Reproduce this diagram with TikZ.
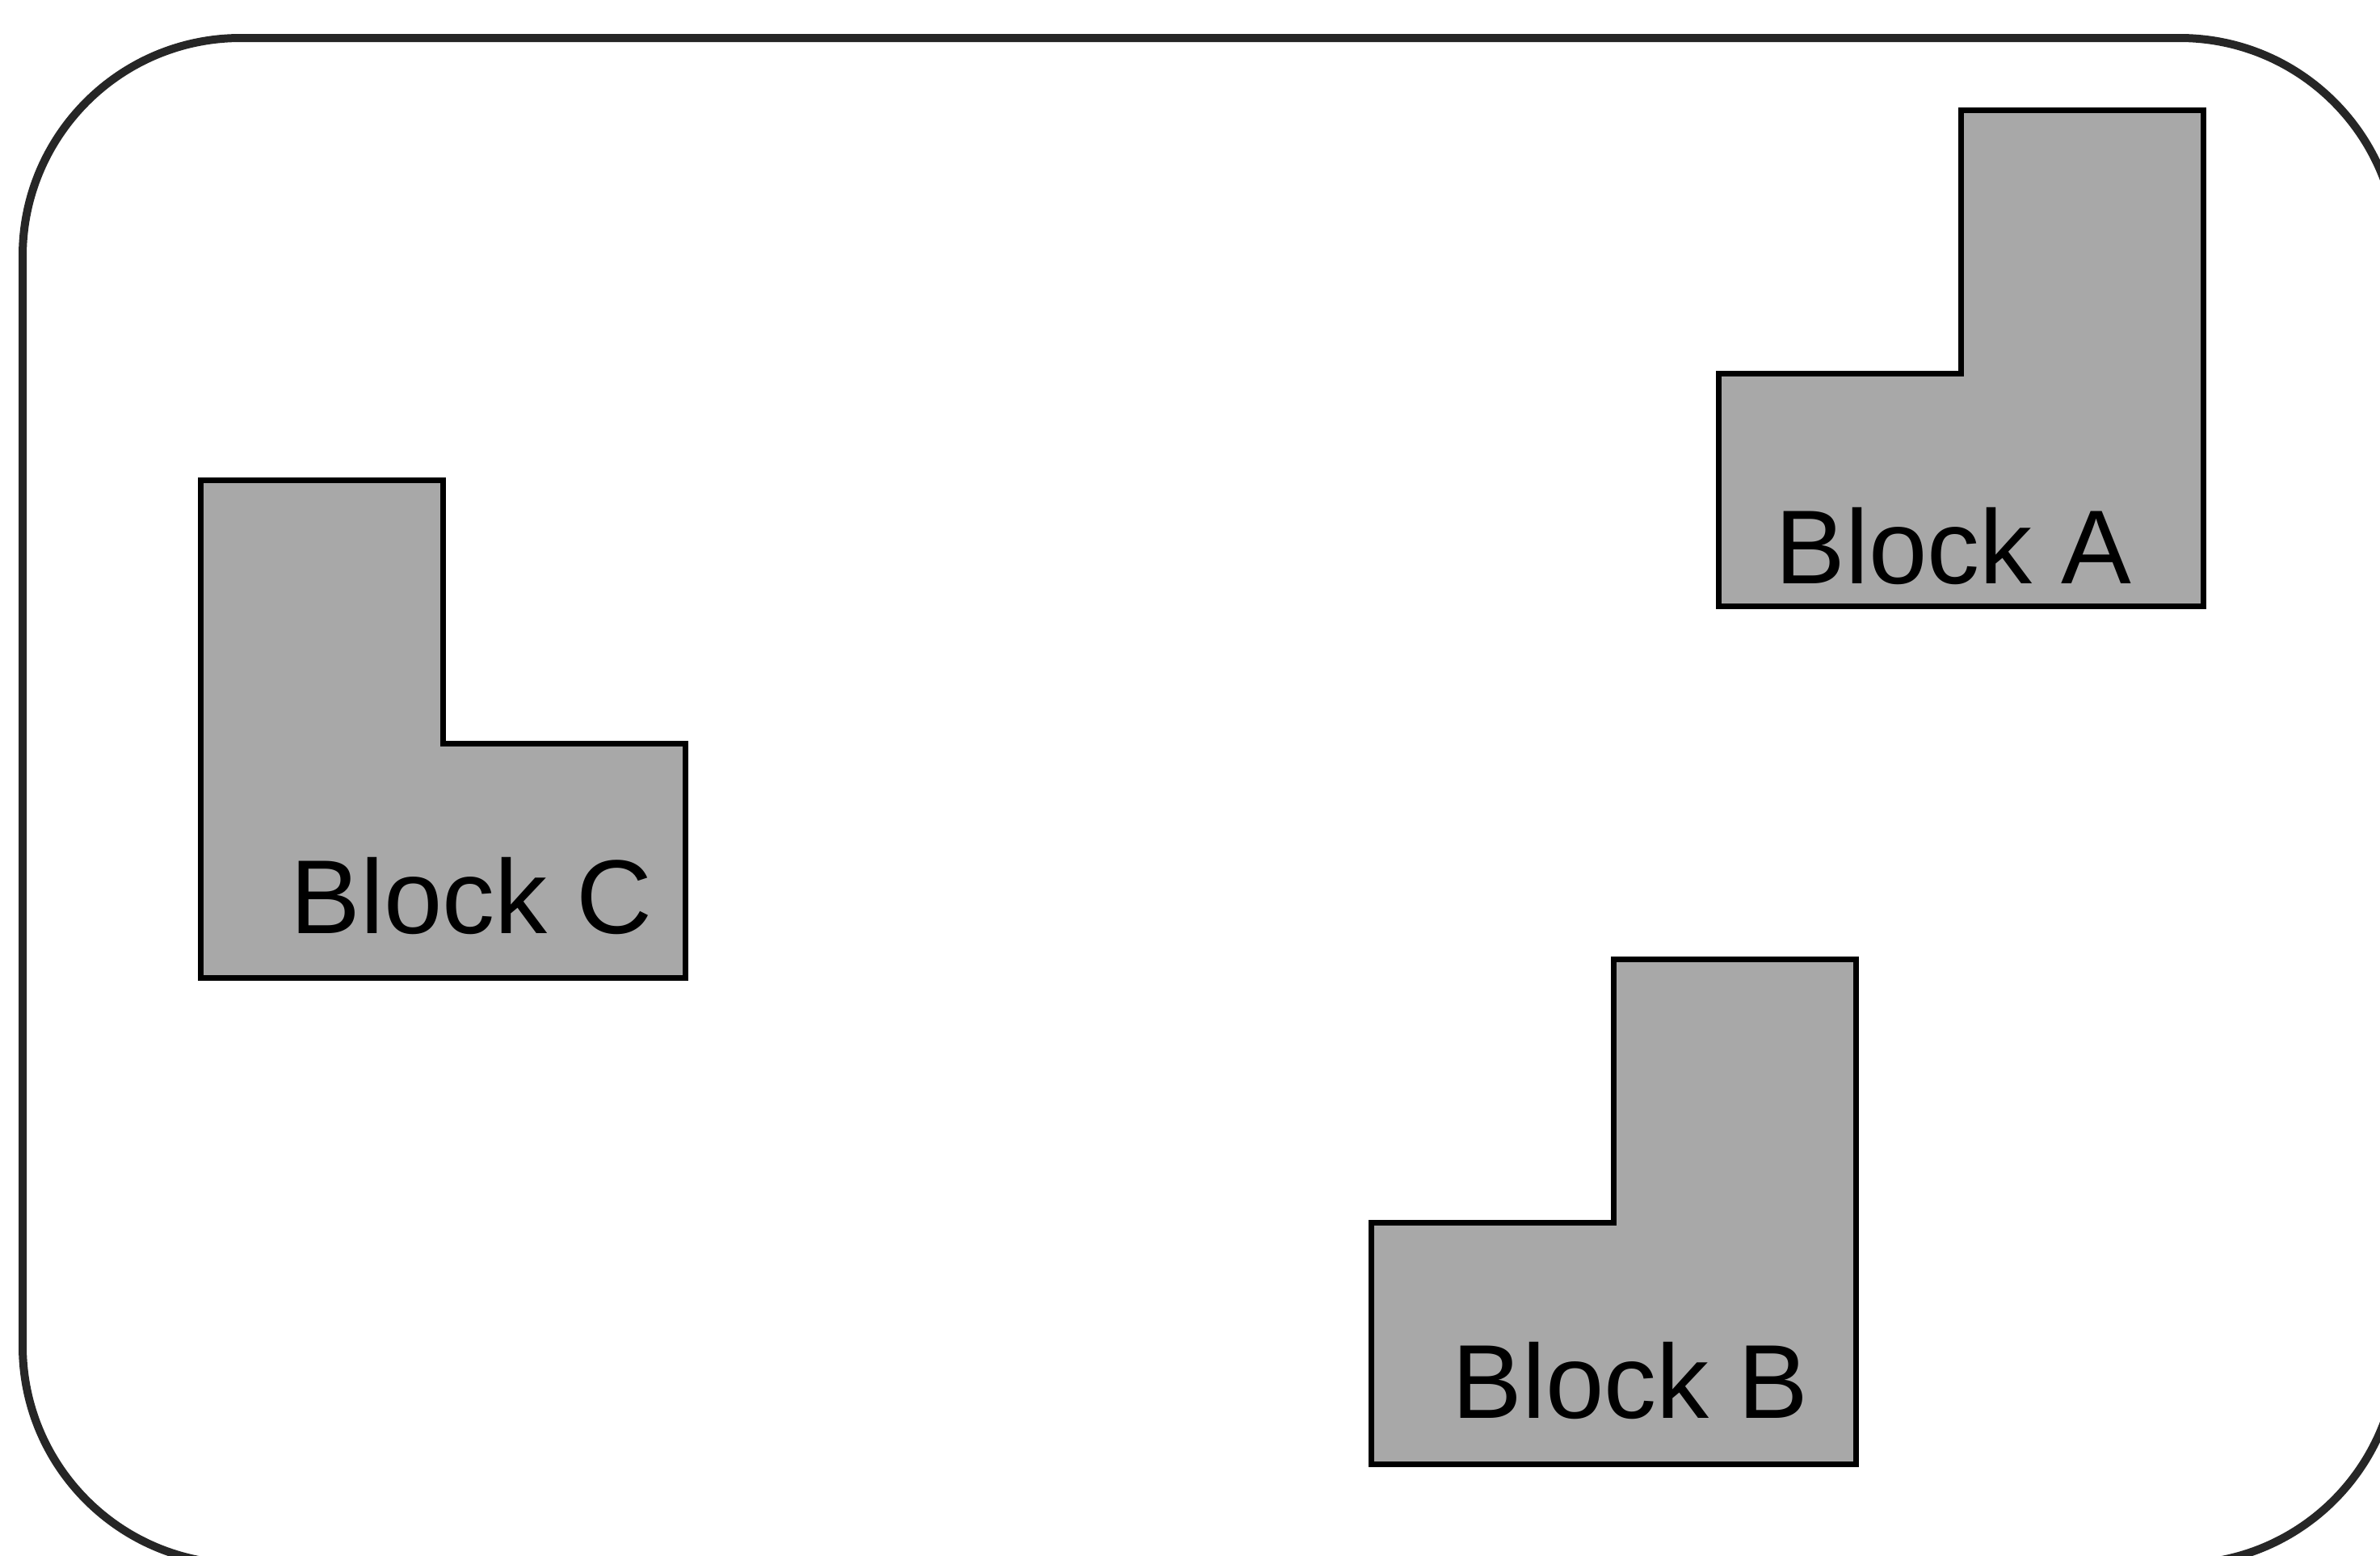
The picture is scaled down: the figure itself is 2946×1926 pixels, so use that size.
\documentclass[tikz,border=0pt]{standalone}
\usepackage{fontspec}
\setmainfont{Liberation Sans}
\usepackage{tikz}
\usetikzlibrary{positioning}

\definecolor{blockgray}{RGB}{168,168,168}

\tikzset{
    outerframe/.style={draw=black!85, line width=1mm, rounded corners=27mm},
    block/.style={draw=black, fill=blockgray, line width=0.7mm},
    blocklabel/.style={font=\fontsize{37}{40}\selectfont, anchor=base, inner sep=0pt},
}

\begin{document}
\begin{tikzpicture}[x=0.1mm, y=-0.1mm]
    \useasboundingbox (0,0) rectangle (2946,1926);
    \clip (0,0) rectangle (2946,1926);

    % outer frame
    \draw[outerframe] (28,47) rectangle (2968,1936);

    % top left corners of the blocks
    \coordinate (A) at (2127,136);
    \coordinate (B) at (1697,1187);
    \coordinate (C) at (248,594);

    % blocks with the column on the right
    \foreach \blk/\h in {A/614,B/625}
    {
        \draw[block]
            (\blk) ++(300,0) -- ++(300,0) -- ++(0,\h) -- ++(-600,0)
            -- ++(0,326-\h) -- ++(300,0) -- cycle;
    }

    % block with the column on the left
    \draw[block]
        (C) -- ++(300,0) -- ++(0,326) -- ++(300,0) -- ++(0,290)
        -- ++(-600,0) -- cycle;

    % labels
    \node[blocklabel] (blockA) at (2418,722) {Block A};
    \node[blocklabel] (blockB) at (2018,1755) {Block B};
    \node[blocklabel] (blockC) at (584,1155) {Block C};
\end{tikzpicture}
\end{document}
